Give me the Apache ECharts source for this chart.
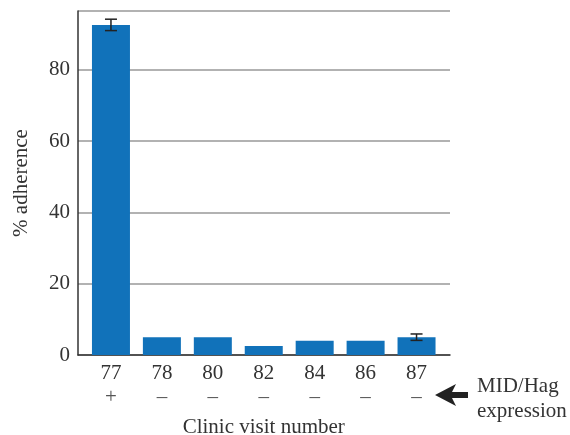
<!DOCTYPE html>
<html><head><meta charset="utf-8">
<script src="https://cdn.jsdelivr.net/npm/echarts@6/dist/echarts.min.js"></script>
<style>html,body{margin:0;padding:0;background:#fff}#c{width:570px;height:435px}</style>
</head><body><div id="c"></div>
<script>
var visits = ['77','78','80','82','84','86','87'];
var expression = ['+','–','–','–','–','–','–'];
var adherence = [92.6, 5, 5, 2.5, 4, 4, 5];
var errors = [1.6, null, null, null, null, null, 0.9];
var yTicks = [0, 20, 40, 60, 80];
var yMax = 96.5;

var chart = echarts.init(document.getElementById('c'), null, {renderer:'canvas'});
var font = '"Liberation Serif", "DejaVu Serif", serif';
var errData = [];
for (var i=0;i<visits.length;i++){ if(errors[i]!=null) errData.push([i, adherence[i], errors[i]]); }

chart.setOption({
  animation:false,
  grid:[
    {left:78, right:120, top:11, bottom:80, outerBoundsMode:'none', containLabel:false},
    {left:85.5, right:128, top:11, bottom:80, outerBoundsMode:'none', containLabel:false}
  ],
  xAxis:[
    {gridIndex:0, type:'value', min:0, max:1, axisLine:{show:true, onZero:false, lineStyle:{color:'#333', width:1.5}},
     axisTick:{show:false}, axisLabel:{show:false}, splitLine:{show:false}},
    {gridIndex:1, type:'category', data:visits, axisLine:{show:false}, axisTick:{show:false},
     axisLabel:{interval:0, margin:6, fontFamily:font, fontSize:21, color:'#333', lineHeight:24,
       formatter:function(v, idx){ return '{n|'+v+'}\n{s|'+expression[idx]+'}'; },
       rich:{n:{fontFamily:font, fontSize:21, color:'#333', lineHeight:24},
             s:{fontFamily:font, fontSize:21, color:'#555', lineHeight:24}}},
     name:'Clinic visit number', nameLocation:'middle', nameGap:62,
     nameTextStyle:{fontFamily:font, fontSize:21, color:'#333'}}
  ],
  yAxis:[
    {gridIndex:0, type:'value', min:0, max:yMax, interval:20,
     axisLine:{show:true, lineStyle:{color:'#333', width:1.5}}, axisTick:{show:false},
     axisLabel:{margin:8, fontFamily:font, fontSize:21, color:'#333',
       formatter:function(v){ return yTicks.indexOf(v)>=0 ? String(v) : ''; }},
     splitLine:{show:true, lineStyle:{color:'#999', width:1.5}},
     name:'% adherence', nameLocation:'middle', nameGap:46, nameRotate:90,
     nameTextStyle:{fontFamily:font, fontSize:21, color:'#333'}},
    {gridIndex:1, type:'value', min:0, max:yMax, interval:20, show:false, splitLine:{show:false}}
  ],
  series:[
    {type:'bar', xAxisIndex:1, yAxisIndex:1, data:adherence, barWidth:38,
     itemStyle:{color:'#1172ba'}},
    {type:'custom', xAxisIndex:1, yAxisIndex:1, data:errData, z:5,
     renderItem:function(params, api){
       var x = api.value(0), v = api.value(1), e = api.value(2);
       var hi = api.coord([x, v+e]), lo = api.coord([x, v-e]);
       var cx = hi[0], w = 6;
       var st = {stroke:'#222', lineWidth:1.5};
       return {type:'group', children:[
         {type:'line', shape:{x1:cx, y1:hi[1], x2:cx, y2:lo[1]}, style:st},
         {type:'line', shape:{x1:cx-w, y1:hi[1], x2:cx+w, y2:hi[1]}, style:st},
         {type:'line', shape:{x1:cx-w, y1:lo[1], x2:cx+w, y2:lo[1]}, style:st}
       ]};
     }}
  ],
  graphic:[
    {type:'polygon', shape:{points:[[435,395],[456,384],[452,392],[468,392],[468,398],[452,398],[456,406]]},
     style:{fill:'#222'}},
    {type:'text', left:477, top:376, style:{text:'MID/Hag', fontFamily:font, fontSize:21, fill:'#333'}},
    {type:'text', left:477, top:401, style:{text:'expression', fontFamily:font, fontSize:21, fill:'#333'}}
  ]
});
</script></body></html>
